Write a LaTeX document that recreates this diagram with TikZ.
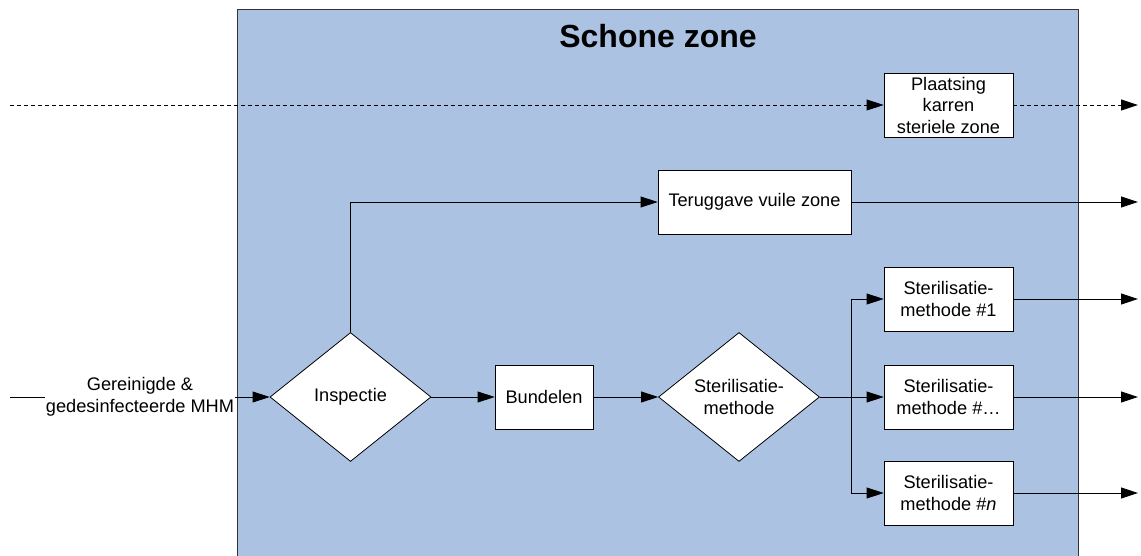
\documentclass[tikz,border=0pt]{standalone}
\usepackage{fontspec}
\setmainfont{Liberation Sans}
\usetikzlibrary{arrows.meta,shapes.geometric}
\definecolor{zoneblue}{RGB}{171,194,227}
\begin{document}
\begin{tikzpicture}[x=1pt,y=-1pt,
  font=\fontsize{18.2}{21.5}\selectfont,
  flow/.style={draw=black,line width=0.8pt,-{Triangle[length=17pt,width=11pt]}},
  plain/.style={draw=black,line width=0.8pt},
  procbox/.style={draw=black,line width=0.8pt,fill=white,align=center,inner sep=0pt},
  choice/.style={draw=black,line width=0.8pt,fill=white,diamond,align=center,inner sep=0pt,
     minimum width=161pt,minimum height=129pt,aspect=1.25},
]
\useasboundingbox (0,0) rectangle (1141,556);
\begin{scope}
\clip (0,0) rectangle (1141,556);
% clean zone
\node[draw=black!80,line width=0.8pt,fill=zoneblue,minimum width=841pt,minimum height=560pt,inner sep=0pt,anchor=north west] (zone) at (237,9) {};
\end{scope}
\node[font=\fontsize{32}{36}\selectfont\bfseries] (title) at (658,36) {Schone zone};

% process boxes
\node[procbox,minimum width=129pt,minimum height=64pt] (plaats) at (948.5,105) {Plaatsing\\karren\\steriele zone};
\node[procbox,minimum width=193pt,minimum height=64pt] (terug) at (754.5,202) {Teruggave vuile zone};
\node[procbox,minimum width=98pt,minimum height=64pt] (bundel) at (544,397) {Bundelen};
\node[procbox,minimum width=129pt,minimum height=64pt] (sm1) at (948.5,299) {Sterilisatie-\\methode \#1};
\node[procbox,minimum width=129pt,minimum height=64pt] (smx) at (948.5,397) {Sterilisatie-\\methode \#…};
\node[procbox,minimum width=129pt,minimum height=64pt] (smn) at (948.5,493) {Sterilisatie-\\methode \#\textit{n}};

% decisions
\node[choice] (insp) at (350.5,397) {Inspectie};
\node[choice] (sterm) at (739,397) {Sterilisatie-\\methode};

% free ends
\coordinate (inStart) at (10,397);
\coordinate (dashStart) at (10,105);
\coordinate (outPl) at (1138,105);
\coordinate (outTe) at (1138,202);
\coordinate (out1) at (1138,299);
\coordinate (outx) at (1138,397);
\coordinate (outn) at (1138,493);
\coordinate (split) at (851,397);

% incoming flow with its label
\draw[flow] (inStart) -- (insp.west);
\node[fill=white,align=center,inner sep=1pt] (inlabel) at (140,397) {Gereinigde \&\\gedesinfecteerde MHM};

% dashed cart flow
\draw[flow,dash pattern=on 4pt off 3pt] (dashStart) -- (plaats.west);
\draw[flow,dash pattern=on 4pt off 3pt] (plaats.east) -- (outPl);

% main flow
\draw[flow] (insp.north) |- (terug.west);
\draw[flow] (terug.east) -- (outTe);
\draw[flow] (insp.east) -- (bundel.west);
\draw[flow] (bundel.east) -- (sterm.west);
\draw[plain] (sterm.east) -- (split);
\draw[flow] (split) |- (sm1.west);
\draw[flow] (split) -- (smx.west);
\draw[flow] (split) |- (smn.west);
\draw[flow] (sm1.east) -- (out1);
\draw[flow] (smx.east) -- (outx);
\draw[flow] (smn.east) -- (outn);
\end{tikzpicture}
\end{document}
